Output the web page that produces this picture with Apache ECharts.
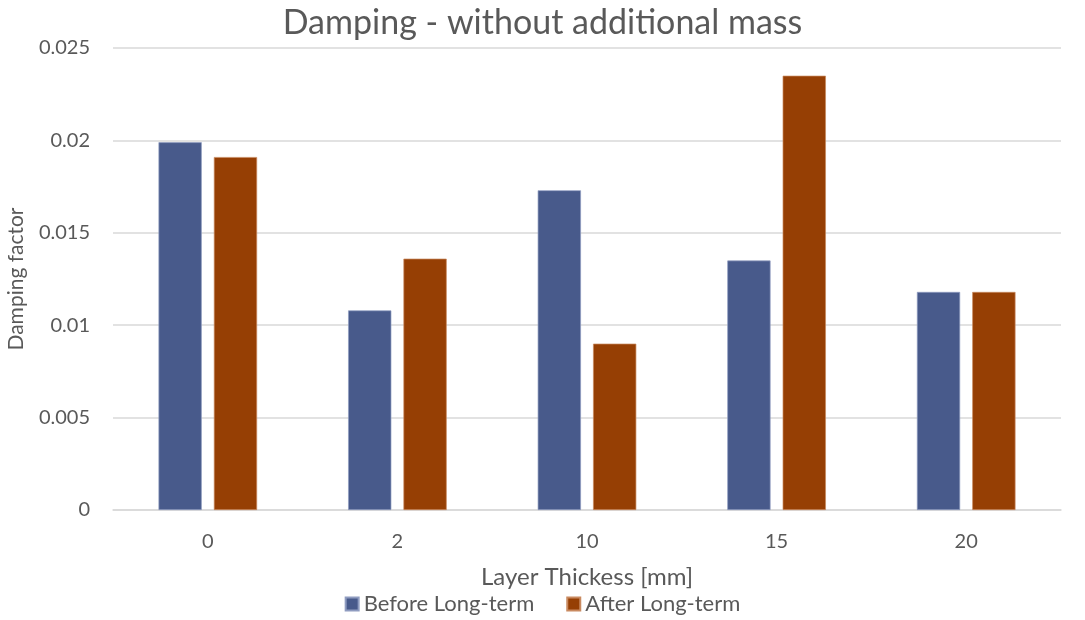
<!DOCTYPE html>
<html><head><meta charset="utf-8">
<script src="https://cdn.jsdelivr.net/npm/echarts@6/dist/echarts.min.js"></script>
<style>html,body{margin:0;padding:0;background:#fff}#c{width:1085px;height:620px}</style>
</head><body><div id="c"></div>
<script>
const categories = ['0', '2', '10', '15', '20'];
const beforeLongTerm = [0.0199, 0.0108, 0.0173, 0.0135, 0.0118];
const afterLongTerm = [0.0191, 0.0136, 0.0090, 0.0235, 0.0118];
const yTicks = { min: 0, max: 0.025, interval: 0.005 };

const FONT = 'Lato';
const chart = echarts.init(document.getElementById('c'));
chart.setOption({
  animation: false,
  textStyle: { fontFamily: FONT },
  title: {
    text: 'Damping - without additional mass',
    left: 'center', top: 1,
    textStyle: { fontFamily: FONT, fontSize: 34, fontWeight: 'normal', color: '#595959' }
  },
  legend: {
    bottom: 0, left: 'center',
    itemWidth: 13, itemHeight: 13, itemGap: 32,
    icon: 'rect',
    textStyle: { fontFamily: FONT, fontSize: 22, color: '#595959' },
    data: ['Before Long-term', 'After Long-term']
  },
  grid: { left: 113, right: 24, top: 48, bottom: 110, containLabel: false, outerBoundsMode: 'none' },
  xAxis: {
    type: 'category', data: categories,
    name: 'Layer Thickess [mm]', nameLocation: 'middle', nameGap: 55,
    nameTextStyle: { fontFamily: FONT, fontSize: 24, color: '#595959' },
    axisLine: { lineStyle: { color: '#d9d9d9', width: 1.5 } },
    axisTick: { show: false },
    axisLabel: { fontFamily: FONT, fontSize: 20, color: '#595959', margin: 22 }
  },
  yAxis: {
    type: 'value', min: yTicks.min, max: yTicks.max, interval: yTicks.interval,
    name: 'Damping factor', nameLocation: 'middle', nameGap: 86, nameRotate: 90,
    nameTextStyle: { fontFamily: FONT, fontSize: 21, color: '#595959' },
    axisLine: { show: false }, axisTick: { show: false },
    axisLabel: { fontFamily: FONT, fontSize: 20, color: '#595959', margin: 23,
      formatter: v => (v === 0 ? '0' : String(+v.toFixed(3))) },
    splitLine: { lineStyle: { color: '#d9d9d9', width: 1.5 } }
  },
  series: [
    { name: 'Before Long-term', type: 'bar', data: beforeLongTerm,
      barGap: '28%', barCategoryGap: '48%',
      itemStyle: { color: '#485A8B', borderColor: '#8f9cc0', borderWidth: 0.7 } },
    { name: 'After Long-term', type: 'bar', data: afterLongTerm,
      itemStyle: { color: '#963F04', borderColor: '#c98a60', borderWidth: 0.7 } }
  ]
});
</script></body></html>
